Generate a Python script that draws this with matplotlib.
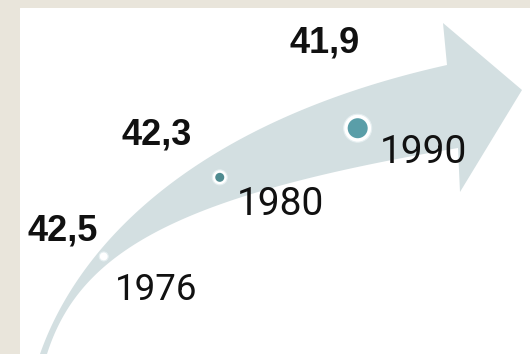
import numpy as np
import matplotlib
matplotlib.use("Agg")
import matplotlib.pyplot as plt
from matplotlib.patches import Polygon

# data
years = [1976, 1980, 1990]
values = [42.5, 42.3, 41.9]

# layout (pixel space of the 530x354 picture, y pointing down)
dot_t = [0.32, 0.63, 0.87]              # position along the arrow
dot_outer = [4.5, 7.5, 14]               # ring radius, px
dot_inner = [2.5, 4.5, 10]               # fill radius, px
dot_fill = ['#ffffff', '#4f8b90', '#5a9ea8']
year_anchor = [(115, 300), (237, 215), (380, 163)]
year_size = [26.5, 28, 28]
value_anchor = [(27, 241), (121, 145), (289, 53)]

upper_ctrl = np.array([(40, 354), (80, 240), (200, 120), (447, 65)])
lower_ctrl = np.array([(47, 354), (80, 250), (180, 195), (458, 148)])
head = [(443, 23), (522, 90), (460, 192)]

arrow_color = '#d3dfe1'
beige = '#e9e5db'


def bezier(ctrl, t):
    t = np.asarray(t)[:, None]
    return ((1 - t) ** 3 * ctrl[0] + 3 * t * (1 - t) ** 2 * ctrl[1]
            + 3 * t ** 2 * (1 - t) * ctrl[2] + t ** 3 * ctrl[3])


fig = plt.figure(figsize=(5.3, 3.54), dpi=100, facecolor=beige)
ax = fig.add_axes([20 / 530, 0, 510 / 530, 346 / 354])
ax.set_facecolor('white')
ax.set_xlim(20, 530)
ax.set_ylim(354, 8)
ax.axis('off')
ax.add_patch(plt.Rectangle((20, 8), 510, 346, color='white', zorder=0))

ts = np.linspace(0, 1, 120)
up = bezier(upper_ctrl, ts)
lo = bezier(lower_ctrl, ts)
outline = np.vstack([up, head, lo[::-1]])
ax.add_patch(Polygon(outline, closed=True, facecolor=arrow_color,
                     edgecolor='none', zorder=1))

center = (upper_ctrl + lower_ctrl) / 2
pts = bezier(center, dot_t)

for i in range(len(years)):
    cx, cy = pts[i]
    ax.add_patch(plt.Circle((cx, cy), dot_outer[i], facecolor='white',
                            edgecolor='#e4eef0', lw=0.8, zorder=2))
    ax.add_patch(plt.Circle((cx, cy), dot_inner[i], facecolor=dot_fill[i],
                            edgecolor='none', zorder=3))

    yx, yy = year_anchor[i]
    ax.text(yx, yy, str(years[i]), fontsize=year_size[i],
            family=['Roboto', 'Liberation Sans'], color='#111111',
            ha='left', va='baseline', zorder=4)

    vx, vy = value_anchor[i]
    ax.text(vx, vy, f'{values[i]:.1f}'.replace('.', ','), fontsize=26,
            fontweight='bold', family=['Liberation Sans Narrow', 'Liberation Sans'],
            color='#111111', ha='left', va='baseline', zorder=4)

fig.savefig('out.png', dpi=100, facecolor=beige)
